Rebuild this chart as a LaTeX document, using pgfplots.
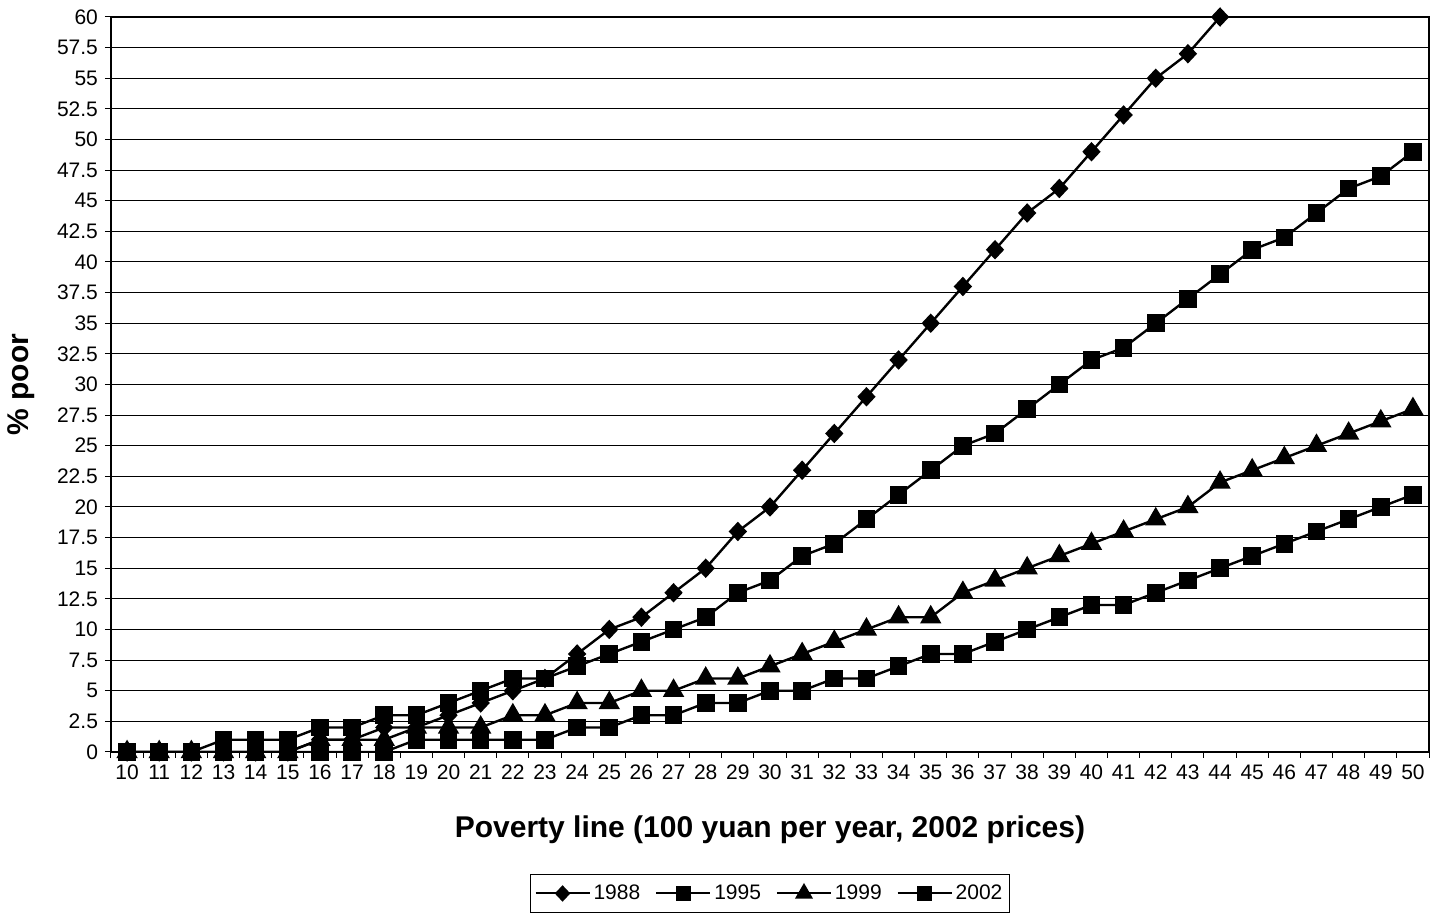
\documentclass[border=0pt]{standalone}
\usepackage{pgfplots}
\pgfplotsset{compat=1.18}
\usepackage{fontspec}
\setmainfont{Liberation Sans}

\begin{document}
\begin{tikzpicture}
\path[use as bounding box] (-55.5pt,-80.5pt) rectangle (665.5pt,376pt);
\begin{axis}[
  at={(0,0)}, anchor=south west,
  scale only axis,
  width=659pt, height=367.5pt,
  xmin=9.5, xmax=50.5,
  ymin=0, ymax=60,
  xtick={10,...,50},
  minor xtick={9.5,10.5,...,50.5},
  ytick={0,2.5,5,7.5,10,12.5,15,17.5,20,22.5,25,27.5,30,32.5,35,37.5,40,42.5,45,47.5,50,52.5,55,57.5,60},
  xtick pos=bottom, ytick pos=left,
  tick align=outside,
  major x tick style={draw=none},
  minor tick length=3pt,
  major tick length=3pt,
  tick style={black, line width=0.5pt},
  ymajorgrids=true,
  grid style={black, line width=0.5pt},
  axis line style={black, line width=0.6pt},
  ticklabel style={font=\fontsize{10.5pt}{12pt}\selectfont},
  /pgf/number format/assume math mode=true,
  xlabel={\bfseries Poverty line (100 yuan per year, 2002 prices)},
  ylabel={\bfseries \% poor},
  label style={font=\fontsize{15pt}{17pt}\selectfont},
  xlabel style={at={(axis description cs:0.5,-0.106)}, anchor=center},
  ylabel style={at={(axis description cs:-0.068,0.5)}, anchor=center},
  every axis plot/.append style={black, line width=1.2pt, mark options={solid, fill=black}},
  legend columns=4,
  legend style={at={(0.5,-0.1925)}, anchor=center, draw=black, line width=0.5pt,
    font=\fontsize{10.5pt}{12pt}\selectfont, inner xsep=2pt, inner ysep=3pt,
    /tikz/every odd column/.append style={column sep=0pt},
    /tikz/every even column/.append style={column sep=6pt},
    nodes={inner xsep=1.5pt}},
  legend image code/.code={
    \draw[line width=1pt, mark repeat=2, mark phase=2,
      every mark/.append style={scale=0.85}]
      plot coordinates {(0pt,0pt) (13.5pt,0pt) (27pt,0pt)};},
]
% 1988 tail beyond the top of the plot
\addplot[no marks, forget plot] coordinates {(44,60)(45,63)};
\addplot[mark=diamond*, mark size=4pt, mark options={xscale=1.25}] coordinates {
 (10,0)(11,0)(12,0)(13,0)(14,0)(15,0)(16,1)(17,1)(18,2)(19,2)(20,3)
 (21,4)(22,5)(23,6)(24,8)(25,10)(26,11)(27,13)(28,15)(29,18)(30,20)
 (31,23)(32,26)(33,29)(34,32)(35,35)(36,38)(37,41)(38,44)(39,46)(40,49)
 (41,52)(42,55)(43,57)(44,60)};
\addlegendentry{1988}
\addplot[mark=square*, mark size=3.8pt] coordinates {
 (10,0)(11,0)(12,0)(13,1)(14,1)(15,1)(16,2)(17,2)(18,3)(19,3)(20,4)
 (21,5)(22,6)(23,6)(24,7)(25,8)(26,9)(27,10)(28,11)(29,13)(30,14)
 (31,16)(32,17)(33,19)(34,21)(35,23)(36,25)(37,26)(38,28)(39,30)(40,32)
 (41,33)(42,35)(43,37)(44,39)(45,41)(46,42)(47,44)(48,46)(49,47)(50,49)};
\addlegendentry{1995}
\addplot[mark=triangle*, mark size=5pt] coordinates {
 (10,0)(11,0)(12,0)(13,0)(14,0)(15,0)(16,1)(17,1)(18,1)(19,2)(20,2)
 (21,2)(22,3)(23,3)(24,4)(25,4)(26,5)(27,5)(28,6)(29,6)(30,7)
 (31,8)(32,9)(33,10)(34,11)(35,11)(36,13)(37,14)(38,15)(39,16)(40,17)
 (41,18)(42,19)(43,20)(44,22)(45,23)(46,24)(47,25)(48,26)(49,27)(50,28)};
\addlegendentry{1999}
\addplot[mark=square*, mark size=3.8pt] coordinates {
 (10,0)(11,0)(12,0)(13,0)(14,0)(15,0)(16,0)(17,0)(18,0)(19,1)(20,1)
 (21,1)(22,1)(23,1)(24,2)(25,2)(26,3)(27,3)(28,4)(29,4)(30,5)
 (31,5)(32,6)(33,6)(34,7)(35,8)(36,8)(37,9)(38,10)(39,11)(40,12)
 (41,12)(42,13)(43,14)(44,15)(45,16)(46,17)(47,18)(48,19)(49,20)(50,21)};
\addlegendentry{2002}
\end{axis}
\end{tikzpicture}
\end{document}
